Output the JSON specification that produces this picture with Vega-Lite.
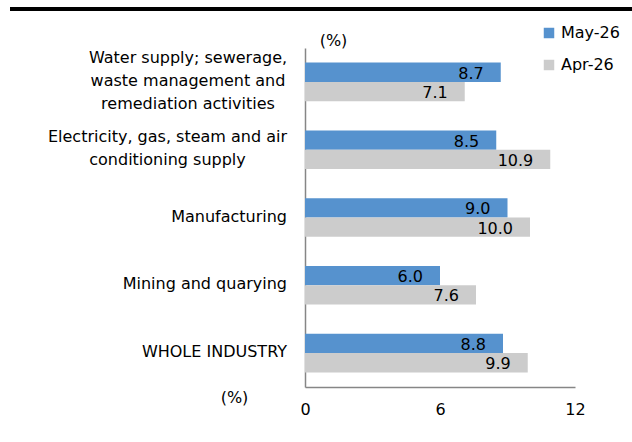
{
  "$schema": "https://vega.github.io/schema/vega-lite/v6.json",
  "width": 270,
  "height": 339,
  "autosize": "none",
  "padding": {"left": 305, "top": 48, "right": 57, "bottom": 55},
  "background": "white",
  "config": {
    "view": {"stroke": null},
    "font": "DejaVu Sans",
    "axis": {"labelFont": "DejaVu Sans", "titleFont": "DejaVu Sans"},
    "legend": {"labelFont": "DejaVu Sans"}
  },
  "datasets": {
    "bars": [
      {"category": "Water supply; sewerage,|waste management and|remediation activities", "series": "May-26", "value": 8.7},
      {"category": "Water supply; sewerage,|waste management and|remediation activities", "series": "Apr-26", "value": 7.1},
      {"category": "Electricity, gas, steam and air|conditioning supply", "series": "May-26", "value": 8.5},
      {"category": "Electricity, gas, steam and air|conditioning supply", "series": "Apr-26", "value": 10.9},
      {"category": "Manufacturing", "series": "May-26", "value": 9.0},
      {"category": "Manufacturing", "series": "Apr-26", "value": 10.0},
      {"category": "Mining and quarying", "series": "May-26", "value": 6.0},
      {"category": "Mining and quarying", "series": "Apr-26", "value": 7.6},
      {"category": "WHOLE INDUSTRY", "series": "May-26", "value": 8.8},
      {"category": "WHOLE INDUSTRY", "series": "Apr-26", "value": 9.9}
    ],
    "categories": [
      {"category": "Water supply; sewerage,|waste management and|remediation activities"},
      {"category": "Electricity, gas, steam and air|conditioning supply"},
      {"category": "Manufacturing"},
      {"category": "Mining and quarying"},
      {"category": "WHOLE INDUSTRY"}
    ]
  },
  "layer": [
    {
      "data": {"name": "bars"},
      "mark": {"type": "bar"},
      "encoding": {
        "y": {
          "field": "category",
          "type": "nominal",
          "sort": null,
          "scale": {"paddingInner": 0.43, "paddingOuter": 0.215},
          "axis": {
            "title": "(%)",
            "titleAngle": 0,
            "titleX": 28,
            "titleY": -8,
            "titleAlign": "center",
            "titleBaseline": "middle",
            "titleFontSize": 16,
            "titleFontWeight": "normal",
            "titleColor": "black",
            "labels": false,
            "ticks": false,
            "domainColor": "#868686",
            "domainWidth": 1.5
          }
        },
        "yOffset": {"field": "series", "type": "nominal", "sort": ["May-26", "Apr-26"], "scale": {"paddingInner": 0}},
        "x": {
          "field": "value",
          "type": "quantitative",
          "scale": {"domain": [0, 12]},
          "axis": {
            "values": [0, 6, 12],
            "grid": false,
            "ticks": false,
            "title": "(%)",
            "titleX": -71,
            "titleY": 10,
            "titleAlign": "center",
            "titleBaseline": "middle",
            "titleFontSize": 16,
            "titleFontWeight": "normal",
            "titleColor": "black",
            "labelFontSize": 16,
            "labelColor": "black",
            "labelPadding": 14,
            "labelFlush": false,
            "domainColor": "#868686",
            "domainWidth": 1.5
          }
        },
        "color": {
          "field": "series",
          "type": "nominal",
          "sort": ["May-26", "Apr-26"],
          "scale": {"domain": ["May-26", "Apr-26"], "range": ["#5692CE", "#CCCCCC"]},
          "legend": {
            "title": null,
            "orient": "none",
            "legendX": 236,
            "legendY": -23,
            "symbolType": "square",
            "symbolSize": 110,
            "symbolStrokeWidth": 0,
            "labelFontSize": 16,
            "labelColor": "black",
            "labelOffset": 4,
            "rowPadding": 16
          }
        }
      }
    },
    {
      "data": {"name": "bars"},
      "mark": {"type": "text", "align": "right", "baseline": "middle", "dx": -17, "dy": 1.5, "fontSize": 16, "color": "black"},
      "encoding": {
        "y": {"field": "category", "type": "nominal", "sort": null},
        "yOffset": {"field": "series", "type": "nominal", "sort": ["May-26", "Apr-26"]},
        "x": {"field": "value", "type": "quantitative"},
        "text": {"field": "value", "type": "quantitative", "format": ".1f"}
      }
    },
    {
      "data": {"name": "categories"},
      "mark": {
        "type": "text",
        "baseline": "middle",
        "fontSize": 16,
        "lineHeight": 23,
        "color": "black",
        "text": {"expr": "split(datum.category, '|')"},
        "align": {"expr": "length(split(datum.category, '|')) > 1 ? 'center' : 'right'"},
        "dx": {"expr": "indexof(datum.category, 'Water') == 0 ? -117 : indexof(datum.category, 'Electricity') == 0 ? -137.5 : -18"},
        "dy": {"expr": "-(length(split(datum.category, '|')) - 1) * 11.5 - 1"}
      },
      "encoding": {
        "y": {"field": "category", "type": "nominal", "sort": null},
        "x": {"datum": 0}
      }
    },
    {
      "data": {"name": "bars"},
      "mark": {"type": "rule", "color": "black", "strokeWidth": 3},
      "encoding": {"x": {"value": -295}, "x2": {"value": 327}, "y": {"value": -39}}
    }
  ]
}
